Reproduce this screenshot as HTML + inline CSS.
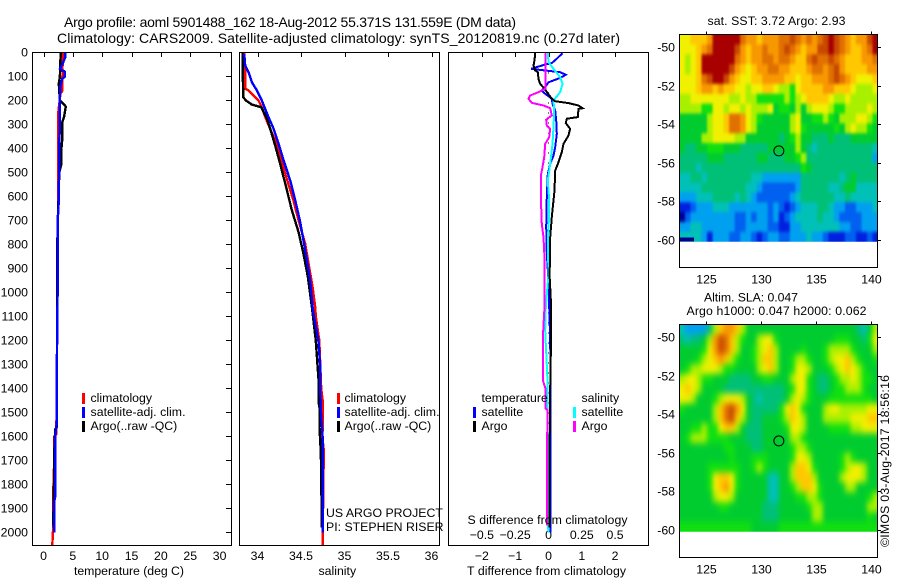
<!DOCTYPE html>
<html lang="en">
<head>
<meta charset="utf-8">
<title>Argo profile chart</title>
<style>
html,body{margin:0;padding:0;background:#fff;}
#chart{display:block;width:900px;height:580px;}
text{font-family:"Liberation Sans",sans-serif;font-size:12.3px;fill:#000;}
.title{font-size:14px;}
.frame{fill:none;stroke:#000;stroke-width:1;shape-rendering:crispEdges;}
.tick{stroke:#000;stroke-width:1;shape-rendering:crispEdges;}
.line{fill:none;stroke-width:2.4;stroke-linejoin:miter;shape-rendering:crispEdges;}
.thin{stroke-width:2;}
</style>
</head>
<body>
<svg id="chart" xmlns="http://www.w3.org/2000/svg" width="900" height="580" viewBox="0 0 900 580">
  <defs id="defs">
    <filter id="sst-smooth" filterUnits="userSpaceOnUse" x="650" y="0" width="250" height="290" color-interpolation-filters="sRGB">
      <feGaussianBlur stdDeviation="1 1.5"/>
    </filter>
    <filter id="sla-smooth" filterUnits="userSpaceOnUse" x="650" y="290" width="250" height="290" color-interpolation-filters="sRGB">
      <feGaussianBlur stdDeviation="2.5 3.5"/>
    </filter>
  </defs>
  <rect x="0" y="0" width="900" height="580" fill="#fff"/>
  <text class="title" x="64" y="27" textLength="452" lengthAdjust="spacing">Argo profile: aoml 5901488_162 18-Aug-2012 55.371S 131.559E (DM data)</text>
  <text class="title" x="57" y="43" textLength="563" lengthAdjust="spacing">Climatology: CARS2009. Satellite-adjusted climatology: synTS_20120819.nc (0.27d later)</text>

  <g id="marks"></g>

  <rect class="frame" x="32.5" y="52.5" width="199" height="493"/>
  <rect class="frame" x="239.5" y="52.5" width="200" height="493"/>
  <rect class="frame" x="448.5" y="52.5" width="200" height="493"/>
  <rect class="frame" x="679.5" y="34.5" width="198" height="233"/>
  <rect class="frame" x="679.5" y="324.5" width="198" height="233"/>

  <text x="74" y="575" textLength="110" lengthAdjust="spacing">temperature (deg C)</text>
  <text x="318.5" y="575">salinity</text>
  <text x="467" y="575" textLength="159" lengthAdjust="spacing">T difference from climatology</text>
  <text x="467.5" y="524" textLength="160" lengthAdjust="spacing">S difference from climatology</text>

  <g>
    <rect x="82" y="393" width="3" height="11" fill="#f00"/>
    <text x="90.5" y="402">climatology</text>
    <rect x="82" y="407" width="3" height="11" fill="#00f"/>
    <text x="90.5" y="416" textLength="95" lengthAdjust="spacing">satellite-adj. clim.</text>
    <rect x="82" y="421" width="3" height="11" fill="#000"/>
    <text x="90.5" y="430">Argo(..raw -QC)</text>
  </g>
  <g>
    <rect x="337" y="393" width="3" height="11" fill="#f00"/>
    <text x="344.5" y="402">climatology</text>
    <rect x="337" y="407" width="3" height="11" fill="#00f"/>
    <text x="344.5" y="416" textLength="95" lengthAdjust="spacing">satellite-adj. clim.</text>
    <rect x="337" y="421" width="3" height="11" fill="#000"/>
    <text x="344.5" y="430">Argo(..raw -QC)</text>
  </g>
  <text x="326" y="517">US ARGO PROJECT</text>
  <text x="326" y="531">PI: STEPHEN RISER</text>
  <g>
    <text x="481.5" y="402">temperature</text>
    <rect x="473" y="407" width="3" height="11" fill="#00f"/>
    <text x="481.5" y="416">satellite</text>
    <rect x="473" y="421" width="3" height="11" fill="#000"/>
    <text x="481.5" y="430">Argo</text>
    <text x="581.5" y="402">salinity</text>
    <rect x="573" y="407" width="3" height="11" fill="#0ff"/>
    <text x="581.5" y="416">satellite</text>
    <rect x="573" y="421" width="3" height="11" fill="#f0f"/>
    <text x="581.5" y="430">Argo</text>
  </g>

  <text x="707.5" y="25" textLength="138" lengthAdjust="spacing">sat. SST: 3.72 Argo: 2.93</text>
  <text x="704" y="301.5" textLength="94" lengthAdjust="spacing">Altim. SLA: 0.047</text>
  <text x="686.5" y="315" textLength="180" lengthAdjust="spacing">Argo h1000: 0.047 h2000: 0.062</text>
  <text transform="translate(889 547) rotate(-90)" textLength="172" lengthAdjust="spacing">©IMOS 03-Aug-2017 18:56:16</text>
</svg>

<script>
// ---- axis tick data ----
const depthTicks = [0,100,200,300,400,500,600,700,800,900,1000,1100,1200,1300,1400,1500,1600,1700,1800,1900,2000];
const temperatureTicks = [0,5,10,15,20,25,30];
const salinityTicks = [34,34.5,35,35.5,36];
const salinityTickLabels = ["34","34.5","35","35.5","36"];
const tDiffTicks = [-2,-1,0,1,2];
const tDiffTickLabels = ["\u22122","\u22121","0","1","2"];
const sDiffTicks = [-0.5,-0.25,0,0.25,0.5];
const sDiffTickLabels = ["\u22120.5","\u22120.25","0","0.25","0.5"];
const lonTicks = [125,130,135,140];
const latTicks = [50,52,54,56,58,60];

// ---- temperature profiles ----
const tempClimDepth = [0,160,170,250,460,800,1000,1400,1590,1600,1697,1829,1961,2003,2052];
const tempClimValue = [3.27,3.2,2.9,2.52,2.52,2.45,2.4,2.24,2.2,1.82,1.82,1.67,1.67,1.6,1.5];
const tempArgoDepth = [0,100,130,200,205,225,240,270,290,360,400,470,500,565,660,700,1000,1400,1560,1570,1680,1700,1890,1950,1980];
const tempArgoValue = [2.93,2.8,2.6,2.8,3.0,3.8,3.7,3.5,3.2,3.2,3.05,3.0,2.7,2.6,2.5,2.4,2.3,2.3,2.3,2.0,1.8,1.85,1.7,1.68,1.7];
const tempSatDepth = [0,20,50,68,80,100,110,140,200,300,400,500,650,700,1000,1400,1550,1600,1850,1870,2000];
const tempSatValue = [3.72,3.7,3.2,2.8,3.65,3.65,3.2,2.87,2.8,2.8,2.65,2.65,2.55,2.4,2.4,2.24,2.24,2.0,2.0,1.84,1.84];

// ---- salinity profiles ----
const salClimDepth = [0,58,89,151,158,179,200,228,276,318,367,429,506,617,700,797,881,978,1061,1100,1200,1400,1455,1560,1600,1650,1720,2052];
const salClimValue = [33.847,33.859,33.859,33.859,33.897,33.955,34.012,34.05,34.096,34.146,34.204,34.254,34.319,34.414,34.472,34.548,34.587,34.633,34.663,34.67,34.71,34.732,34.75,34.75,34.745,34.76,34.76,34.748];
const salArgoDepth = [0,186,200,217,228,276,318,388,464,547,658,749,839,936,1061,1200,1367,1458,1480,1560,1650,1680,1980];
const salArgoValue = [33.828,33.836,33.867,33.936,34.043,34.108,34.146,34.204,34.261,34.319,34.395,34.472,34.529,34.579,34.625,34.67,34.702,34.702,34.713,34.713,34.725,34.729,34.74];
const salSatDepth = [6,54,82,124,158,200,235,269,318,381,450,533,617,707,783,867,950,1061,1100,1200,1300,1400,1500,1600,2000];
const salSatValue = [33.847,33.859,33.897,33.936,33.993,34.05,34.089,34.127,34.185,34.242,34.30,34.376,34.434,34.491,34.529,34.568,34.606,34.633,34.65,34.70,34.72,34.721,34.73,34.748,34.748];

// ---- difference profiles ----
const diffTArgoDepth = [3,33,54,75,82,110,131,151,193,203,211,221,232,235,269,276,294,318,346,381,415,457,492,575,686,769,853,922,1061,1160,1400,1700,1980];
const diffTArgoValue = [-0.40,-0.42,-0.45,-0.40,-0.32,-0.30,-0.25,-0.12,0.10,0.20,0.60,0.90,1.02,0.90,0.88,0.55,0.52,0.65,0.60,0.45,0.40,0.30,0.20,0.18,0.10,0.05,0.05,0.03,0.08,0.08,0.05,0.03,0.03];
const diffTSatDepth = [3,26,44,50,68,75,82,93,106,124,144,158,172,193,214,242,297,339,394,429,464,506,603,728,839,950,1061,1200,1400,2000];
const diffTSatValue = [0.42,0.25,0.10,-0.10,-0.52,-0.10,0.35,0.52,0.35,0,-0.10,-0.20,-0.10,0.10,0.12,0.20,0.24,0.25,0.20,0.15,0.05,-0.02,-0.05,-0.07,-0.05,0,0.02,0.05,0.06,0.06];
const diffSSatDepth = [3,40,68,103,131,165,200,242,311,381,464,533,617,672,783,922,1061,1160,1367,1950,2000];
const diffSSatValue = [-0.005,0,0.0375,0.0875,0.105,0.0875,0.0375,0.0425,0.0375,0.03,0.0125,-0.005,0.005,0.005,-0.005,0,-0.02,-0.025,-0.0075,-0.0075,0];
const diffSArgoDepth = [3,151,165,179,193,210,221,232,262,280,304,318,353,381,436,478,506,644,714,769,853,1061,1160,1370,1400,1483,1490,1750,1970];
const diffSArgoValue = [-0.0225,-0.0225,-0.075,-0.1375,-0.15,-0.125,-0.0375,0.0125,0.025,-0.0175,-0.0125,0.0125,0.005,-0.025,-0.0325,-0.045,-0.055,-0.055,-0.05,-0.0375,-0.03,-0.03,-0.04,-0.04,-0.0225,-0.0225,-0.0075,-0.0125,-0.0125];

// ---- float location ----
const floatLon = 131.559;
const floatLat = 55.371;

// ---- map grids: colour level per 0.5 deg cell (0 coolest/lowest .. 14 warmest/highest) ----
const sstGrid = [
[9,9,10,10,10,11, 14,14,14,14,14,12, 11,11,10,11,11,11, 12,12,13,12,11,12, 11,12,13,14,13,12, 11,10,11,11,13,14],
[9,9,9,10,11,12, 14,14,14,14,13,11, 10,11,11,12,11,11, 12,13,12,11,10,11, 11,13,13,14,13,12, 11,10,10,11,12,14],
[9,8,9,10,14,14, 14,14,14,14,12,11, 10,11,11,12,12,11, 12,12,11,10,10,12, 13,12,12,13,12,11, 10,10,10,11,11,12],
[9,8,9,10,14,14, 14,14,14,13,11,10, 9,10,11,11,12,12, 11,11,10,10,10,11, 12,12,11,12,13,11, 10,10,10,10,11,11],
[9,9,9,10,12,13, 14,14,13,11,10,9, 9,10,10,11,11,11, 11,10,10,9,10,10, 11,11,11,12,13,12, 11,10,9,9,9,10],
[9,9,9,10,11,11, 10,11,10,10,9,9, 8,9,9,10,10,9, 8,8,7,9,10,10, 10,10,11,11,10,10, 10,9,8,8,8,9],
[8,8,9,9,9,9, 9,9,9,8,8,9, 8,8,7,7,7,7, 7,8,7,8,9,10, 10,10,10,9,8,8, 9,8,8,8,8,8],
[8,8,8,8,7,7, 9,9,8,9,9,8, 9,8,8,8,9,6, 7,7,6,8,6,8, 9,9,9,8,7,7, 8,8,8,8,9,8],
[6,6,6,6,6,8, 9,9,10,12,12,11, 9,8,7,6,6,6, 6,6,8,9,6,6, 7,7,8,7,6,8, 8,8,9,9,8,7],
[6,6,6,6,6,8, 9,9,10,12,12,11, 9,8,6,6,6,6, 6,6,8,9,7,6, 6,6,6,6,7,6, 8,9,8,8,7,6],
[6,6,6,6,8,8, 9,9,9,9,8,8, 6,6,6,6,6,6, 5,6,7,8,6,6, 5,5,5,6,5,5, 5,6,6,6,6,6],
[6,5,5,6,6,7, 7,7,6,6,6,5, 5,5,5,5,6,6, 6,6,6,8,6,5, 4,5,5,5,5,5, 5,5,5,5,5,4],
[5,5,5,5,5,6, 6,6,5,5,5,5, 5,5,6,6,5,5, 5,6,6,7,8,5, 5,5,5,5,5,5, 5,5,5,5,5,3],
[5,5,5,4,5,5, 5,5,5,5,5,5, 5,5,5,5,5,5, 5,5,5,5,7,6, 5,5,5,5,5,5, 5,5,5,5,5,5],
[4,4,5,5,4,5, 5,5,5,5,5,5, 5,4,4,3,3,3, 3,3,3,3,5,5, 5,5,5,5,5,4, 5,6,5,5,5,5],
[4,4,4,4,5,5, 5,5,5,5,5,5, 4,4,3,2,2,2, 2,2,2,3,5,5, 5,5,5,4,4,5, 6,6,4,4,4,4],
[3,3,3,4,4,4, 5,5,5,5,4,5, 4,3,2,2,2,2, 2,2,3,4,5,5, 5,5,5,5,4,4, 5,4,4,4,4,4],
[1,1,2,3,3,3, 4,4,4,3,3,3, 3,3,3,3,2,3, 2,1,2,3,4,4, 4,5,5,4,3,3, 2,2,3,3,3,4],
[0,2,3,3,3,3, 3,3,3,3,2,2, 3,2,3,3,2,3, 1,2,3,4,4,4, 4,5,4,4,3,2, 2,2,2,3,3,3],
[3,3,4,4,3,3, 3,3,3,3,2,2, 3,3,3,3,2,2, 1,1,3,3,4,4, 4,4,4,4,4,3, 3,2,2,3,3,3],
[4,4,4,4,3,1, 3,3,3,2,2,3, 3,2,1,2,3,3, 2,2,3,3,3,4, 3,3,2,1,1,1, 2,2,1,1,2,1]
];
const slaGrid = [
[4,3,3,3,3,5, 8,10,11,11,10,8, 6,6,6,6,6,6, 6,6,6,6,6,6, 6,6,6,6,6,6, 6,6,5,4,6,8],
[5,4,5,5,6,8, 11,13,12,10,8,7, 6,6,8,9,9,7, 6,6,6,6,6,6, 6,6,6,6,7,7, 7,6,6,5,7,9],
[6,6,6,6,7,9, 11,13,12,10,8,6, 6,7,8,9,10,8, 6,6,6,6,7,6, 6,6,7,8,8,8, 8,7,6,6,6,8],
[6,6,6,7,8,9, 10,11,10,8,7,6, 6,7,8,10,10,8, 6,6,7,8,8,7, 6,6,7,8,9,9, 10,8,7,6,6,7],
[6,7,8,8,9,9, 9,8,7,7,6,6, 6,6,8,9,10,8, 6,6,7,9,9,8, 6,6,6,7,8,9, 10,9,8,7,6,6],
[8,9,9,8,7,7, 6,6,6,5,5,5, 5,6,6,7,7,6, 6,6,8,9,9,7, 6,5,5,6,7,8, 8,9,8,7,7,6],
[9,10,9,8,6,6, 6,6,5,5,5,5, 5,5,5,5,5,5, 5,6,7,9,9,7, 6,5,5,6,7,7, 8,8,8,7,6,6],
[9,9,8,6,6,6, 7,8,9,9,9,8, 6,5,4,5,5,5, 5,6,8,9,8,7, 6,6,6,7,7,7, 7,7,7,7,7,6],
[7,6,6,6,6,6, 8,10,12,13,11,9, 6,5,5,5,5,5, 7,9,10,9,7,6, 6,6,8,9,9,8, 8,8,8,8,9,9],
[6,6,6,6,6,6, 8,10,12,13,10,8, 6,5,5,6,6,6, 7,8,10,9,8,6, 6,6,8,8,8,8, 8,9,9,9,10,10],
[6,6,7,7,8,7, 7,9,10,10,8,6, 5,5,5,6,6,6, 6,7,9,9,8,6, 6,6,6,7,7,7, 7,8,8,9,9,9],
[6,7,8,8,8,7, 7,7,7,6,6,6, 5,5,5,6,6,6, 6,6,8,8,7,6, 6,6,6,6,6,6, 6,6,6,6,6,6],
[6,6,6,6,6,6, 6,6,7,7,6,6, 6,5,5,6,6,6, 6,6,7,8,8,7, 6,6,6,6,6,6, 6,6,6,6,6,6],
[6,6,6,6,6,6, 6,6,6,7,6,6, 6,7,7,7,6,6, 6,6,7,9,9,8, 6,6,6,6,6,7, 8,7,6,6,6,6],
[6,6,6,6,6,7, 7,7,7,7,7,6, 6,7,8,7,6,6, 6,6,8,10,10,9, 7,6,6,6,6,7, 8,9,9,8,6,6],
[6,6,6,6,6,7, 9,10,10,9,7,6, 6,6,6,6,4,4, 6,6,8,10,10,10, 8,6,6,6,6,8, 9,9,9,8,6,6],
[6,6,6,6,6,7, 9,10,11,9,7,6, 6,6,6,6,4,4, 6,6,7,8,10,10, 9,7,6,6,6,6, 8,8,6,6,6,6],
[6,6,6,6,6,6, 8,9,9,8,6,6, 6,6,6,6,4,4, 6,6,6,7,7,8, 8,7,6,6,6,6, 6,6,6,6,7,8],
[6,6,6,6,6,6, 6,7,7,6,6,6, 6,6,6,5,5,5, 6,6,6,6,6,7, 8,8,6,6,6,6, 6,6,6,6,8,8],
[6,6,6,6,6,6, 6,6,6,6,6,6, 6,6,6,5,5,5, 6,6,6,6,6,6, 8,8,6,6,6,6, 6,6,6,6,7,6],
[7,7,7,7,7,7, 7,7,7,7,7,7, 7,6,6,6,6,6, 7,7,7,7,7,7, 7,7,7,7,7,7, 7,7,7,7,7,7]
];
const sstMissingLon = [122.6, 123.85];
const sstMissingLat = [59.87, 60.09];
const sstMissingLevel = 0;
const gridWestLon = 122.55;
const gridLonStep = 0.5;
const gridNorthLat = 49.33;
const gridSouthLat = 60.09;

// ---- colour palette for the map levels ----
const mapPalette = ["#000090","#0020e0","#0060f0","#00a0f0","#00c0b8","#00c078","#00cc30","#10e010","#a8f000","#f0f000","#ffc800","#f89800","#e07000","#c84800","#a80000"];

// ---- axis functions ----
const NS = "http://www.w3.org/2000/svg";
const depthY = d => 52.5 + d * 0.24;
const tempX = t => 43.5 + t * 5.87;
const salX = s => 344.5 + (s - 35) * 87;
const tDiffX = d => 548.5 + d * 33.3;
const sDiffX = s => 548.5 + s * 133.2;
const lonX = lon => 706.5 + (lon - 125) * 11.03;
const latY = (lat, top) => top + 13 + (lat - 50) * 19.25;

const marks = document.getElementById("marks");
const defs = document.getElementById("defs");

function add(parent, tag, attrs, content) {
  const el = document.createElementNS(NS, tag);
  for (const k in attrs) el.setAttribute(k, attrs[k]);
  if (content !== undefined) el.textContent = content;
  parent.appendChild(el);
  return el;
}

function drawProfile(name, depths, values, xFn, color, cls) {
  const pts = depths.map((d, i) => xFn(values[i]).toFixed(1) + "," + depthY(d).toFixed(1)).join(" ");
  const el = add(marks, "polyline", {points: pts, stroke: color, "class": cls});
  
  
}

function drawXTickLabels(prefix, ticks, labels, xFn, baseline) {
  ticks.forEach((v, i) => {
    const el = add(marks, "text", {x: xFn(v), y: baseline, "text-anchor": "middle"}, labels[i]);
    
    
  });
}

function drawTopTicks(prefix, ticks, xFn) {
  ticks.forEach(v => {
    const x = Math.round(xFn(v)) + 0.5;
    const el = add(marks, "line", {x1: x, x2: x, y1: 52, y2: 57, "class": "tick"});
    
    
  });
}

// ---- depth axis ----
depthTicks.forEach(d => {
  const y = Math.round(depthY(d) - 0.5) + 0.5;
  const label = add(marks, "text", {x: 28, y: y + 4, "text-anchor": "end"}, String(d));
  
  
  const tick = add(marks, "line", {x1: 226, x2: 231, y1: y, y2: y, "class": "tick"});
  
  
});

// ---- x axes ----
drawTopTicks('temperature', temperatureTicks, tempX);
drawXTickLabels('temperature', temperatureTicks, temperatureTicks.map(String), tempX, 560);
drawTopTicks('salinity', salinityTicks, salX);
drawXTickLabels('salinity', salinityTicks, salinityTickLabels, salX, 560);
drawTopTicks('t-difference', tDiffTicks, tDiffX);
drawXTickLabels('t-difference', tDiffTicks, tDiffTickLabels, tDiffX, 560);
drawXTickLabels('s-difference', sDiffTicks, sDiffTickLabels, sDiffX, 539);

// ---- zero line in the difference panel ----
const zeroLine = add(marks, "line", {x1: tDiffX(0), x2: tDiffX(0), y1: depthY(0), y2: depthY(2000), stroke: "#000", "stroke-width": 1, "stroke-dasharray": "1 9", "shape-rendering": "crispEdges"});



// ---- profile lines ----
drawProfile('temperature-climatology-line', tempClimDepth, tempClimValue, tempX, '#f00', 'line');
drawProfile('temperature-argo-line', tempArgoDepth, tempArgoValue, tempX, '#000', 'line');
drawProfile('temperature-satellite-line', tempSatDepth, tempSatValue, tempX, '#00f', 'line');
drawProfile('salinity-climatology-line', salClimDepth, salClimValue, salX, '#f00', 'line');
drawProfile('salinity-argo-line', salArgoDepth, salArgoValue, salX, '#000', 'line');
drawProfile('salinity-satellite-line', salSatDepth, salSatValue, salX, '#00f', 'line');
drawProfile('t-difference-satellite-line', diffTSatDepth, diffTSatValue, tDiffX, '#00f', 'line thin');
drawProfile('s-difference-satellite-line', diffSSatDepth, diffSSatValue, sDiffX, '#0ff', 'line thin');
drawProfile('t-difference-argo-line', diffTArgoDepth, diffTArgoValue, tDiffX, '#000', 'line thin');
drawProfile('s-difference-argo-line', diffSArgoDepth, diffSArgoValue, sDiffX, '#f0f', 'line thin');

// ---- maps ----
function drawMap(prefix, grid, top) {
  const clip = add(defs, "clipPath", {id: prefix + "-clip"});
  
  
  const clipRect = add(clip, "rect", {x: 679.5, y: top, width: 198, height: latY(gridSouthLat, top) - top});
  
  

  const clipped = add(marks, "g", {"clip-path": "url(#" + prefix + "-clip)"});
  
  
  const group = add(clipped, "g", {filter: "url(#" + prefix + "-smooth)"});
  
  

  const latStep = (gridSouthLat - gridNorthLat) / grid.length;
  const bleed = 14;
  grid.forEach((row, r) => {
    const y0 = latY(gridNorthLat + r * latStep, top) - (r === 0 ? bleed : 0);
    const y1 = latY(gridNorthLat + (r + 1) * latStep, top) + (r === grid.length - 1 ? bleed : 0);
    row.forEach((level, c) => {
      const x0 = lonX(gridWestLon + c * gridLonStep) - (c === 0 ? bleed : 0);
      const x1 = lonX(gridWestLon + (c + 1) * gridLonStep) + (c === row.length - 1 ? bleed : 0);
      const cell = add(group, "rect", {x: x0.toFixed(2), y: y0.toFixed(2), width: (x1 - x0 + 0.4).toFixed(2), height: (y1 - y0 + 0.4).toFixed(2), fill: mapPalette[level]});
      
      
    });
  });
  lonTicks.forEach(lon => {
    const x = Math.round(lonX(lon) - 0.5) + 0.5;
    const tick = add(marks, "line", {x1: x, x2: x, y1: top - 3, y2: top, "class": "tick"});
    
    
    const label = add(marks, "text", {x: x, y: top + 249, "text-anchor": "middle"}, String(lon));
    
    
  });
  latTicks.forEach(lat => {
    const y = Math.round(latY(lat, top) - 0.5) + 0.5;
    const tick = add(marks, "line", {x1: 877, x2: 881, y1: y, y2: y, "class": "tick"});
    
    
    const label = add(marks, "text", {x: 675, y: y + 4, "text-anchor": "end"}, "-" + lat);
    
    
  });
}
drawMap('sst', sstGrid, 34.5);
drawMap('sla', slaGrid, 324.5);

const missingStrip = add(marks, "rect", {
  x: lonX(sstMissingLon[0]), y: latY(sstMissingLat[0], 34.5),
  width: lonX(sstMissingLon[1]) - lonX(sstMissingLon[0]),
  height: latY(sstMissingLat[1], 34.5) - latY(sstMissingLat[0], 34.5),
  fill: mapPalette[sstMissingLevel], "shape-rendering": "crispEdges"
});



[34.5, 324.5].forEach(top => {
  const marker = add(marks, "circle", {cx: lonX(floatLon), cy: latY(floatLat, top), r: 5, fill: "none", stroke: "#000", "stroke-width": 1});
  
  
});
</script>
</body>
</html>
